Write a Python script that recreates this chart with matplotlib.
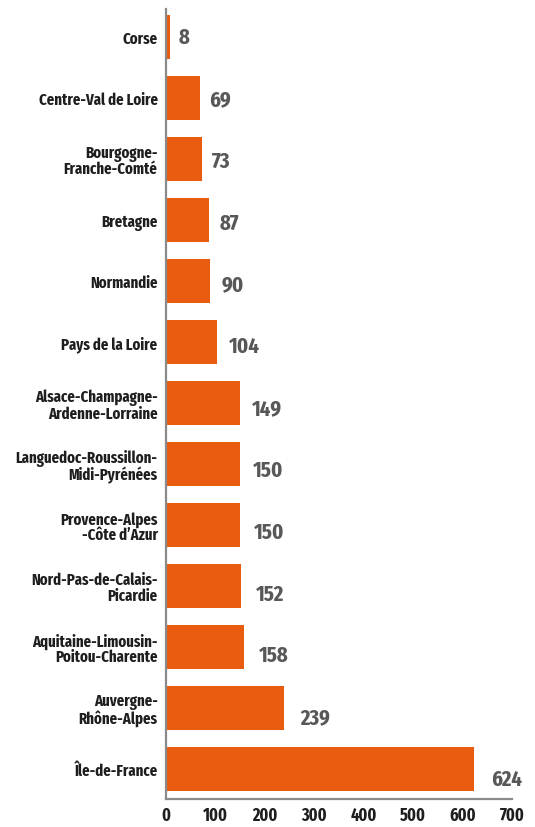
import matplotlib.pyplot as plt
from matplotlib import font_manager
from matplotlib.ticker import MultipleLocator

regions = ['Corse', 'Centre-Val de Loire', 'Bourgogne-\nFranche-Comté', 'Bretagne',
           'Normandie', 'Pays de la Loire', 'Alsace-Champagne-\nArdenne-Lorraine',
           'Languedoc-Roussillon-\nMidi-Pyrénées', 'Provence-Alpes\n-Côte d\u2019Azur',
           'Nord-Pas-de-Calais-\nPicardie', 'Aquitaine-Limousin-\nPoitou-Charente',
           'Auvergne-\nRhône-Alpes', 'Île-de-France']
values = [8, 69, 73, 87, 90, 104, 149, 150, 150, 152, 158, 239, 624]

orange = '#E95B0E'
grey = '#585858'
dark = '#1e1e1e'

# pick a narrow bold face if one is around, else DejaVu
installed = {f.name for f in font_manager.fontManager.ttflist}
family = 'DejaVu Sans'
for name in ['Fira Sans Extra Condensed', 'Saira Extra Condensed', 'Oswald',
             'Barlow Condensed', 'Roboto Condensed', 'Fira Sans Condensed',
             'Archivo Narrow', 'PT Sans Narrow', 'Liberation Sans Narrow']:
    if name in installed:
        family = name
        break
fam = [family, 'DejaVu Sans']

fig = plt.figure(figsize=(5.35, 8.28), dpi=100)
ax = fig.add_axes([0.310, 0.034, 0.647, 0.954])
renderer = fig.canvas.get_renderer()


def fit_size(text, width_px):
    # font size (pt) at which text is width_px wide
    t = fig.text(0, 0, text, fontsize=10, family=fam, fontweight='bold')
    w = t.get_window_extent(renderer).width
    t.remove()
    return 10 * width_px / w


cat_size = fit_size('Centre-Val de Loire', 119)
val_size = fit_size('624', 31)
tick_size = fit_size('700', 25)

pos = list(range(len(values)))
ax.barh(pos, values, height=0.72, color=orange)
ax.set_ylim(len(values) - 0.51, -0.46)
ax.set_xlim(0, 700)

for i, v in enumerate(values):
    ax.annotate(str(v), (v, i), xytext=(6 + i * 0.5, -i * 0.6),
                textcoords='offset points', ha='left', va='center',
                fontsize=val_size, color=grey, family=fam, fontweight='bold')

ax.set_yticks(pos)
ax.set_yticklabels(regions, fontsize=cat_size, color=dark, linespacing=1.0,
                   family=fam, fontweight='bold')
ax.xaxis.set_major_locator(MultipleLocator(100))
for lab in ax.get_xticklabels():
    lab.set_fontsize(tick_size)
    lab.set_color(dark)
    lab.set_fontweight('bold')
    lab.set_family(fam)
ax.tick_params(axis='both', length=0)
ax.tick_params(axis='x', pad=5)
ax.tick_params(axis='y', pad=6)

for s in ['top', 'right']:
    ax.spines[s].set_visible(False)
for s in ['left', 'bottom']:
    ax.spines[s].set_color('#8a8a8a')
    ax.spines[s].set_linewidth(1.6)

fig.savefig('out.png', dpi=100)
